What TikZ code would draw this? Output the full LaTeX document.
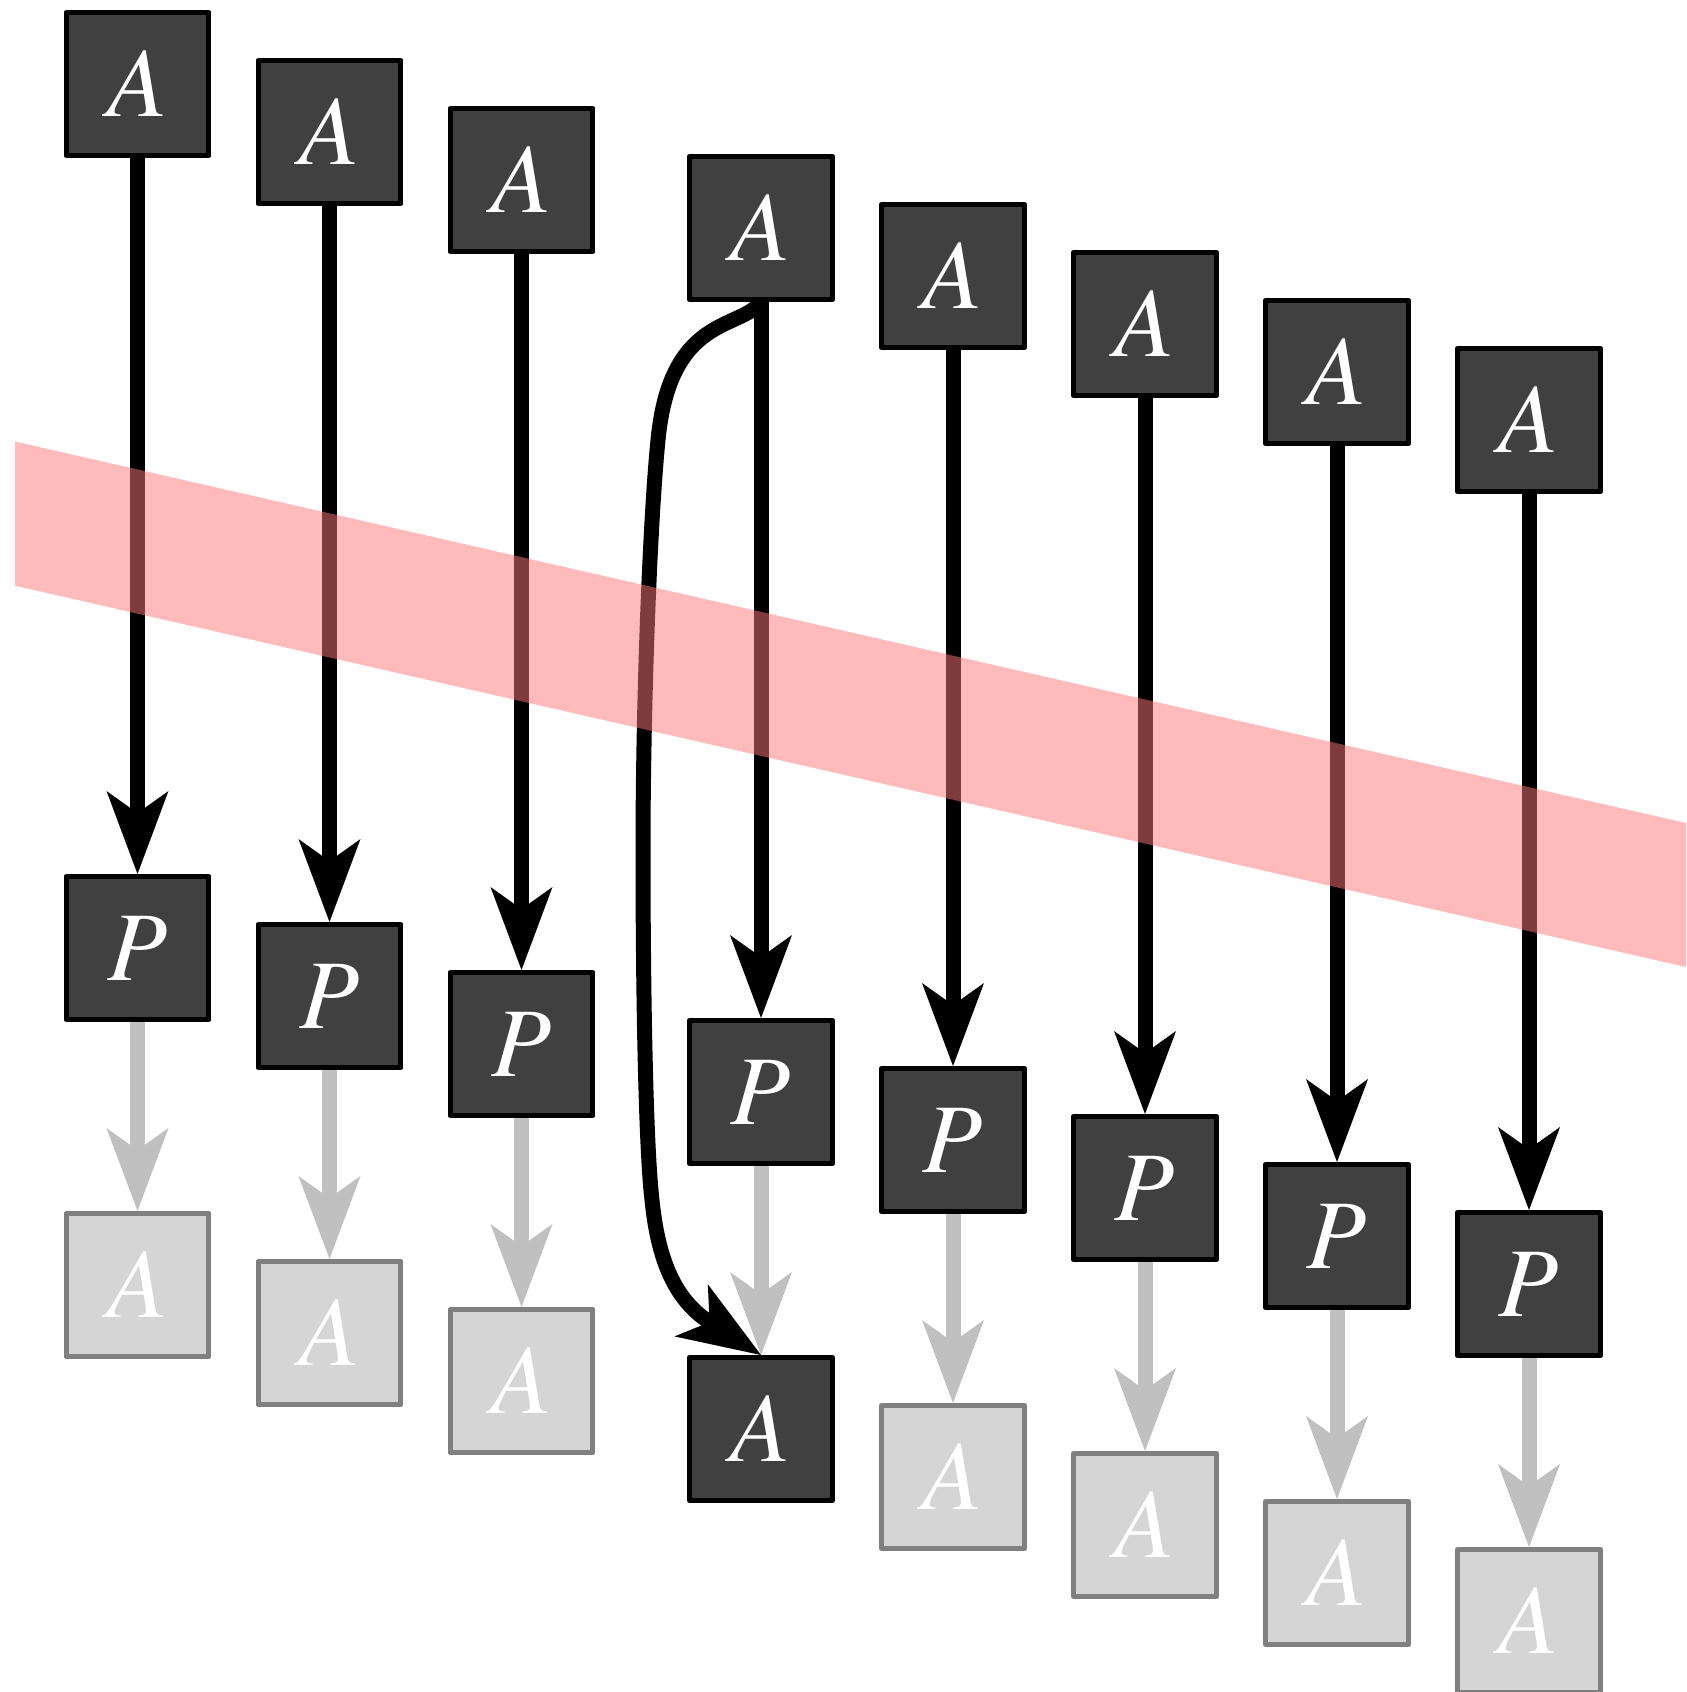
\documentclass[tikz,border=0pt]{standalone}
\usepackage{fontspec}
\newfontfamily\boxfont{texgyretermes-italic.otf}
\usetikzlibrary{arrows.meta}
\definecolor{boxdark}{HTML}{404040}
\definecolor{boxlight}{HTML}{D5D5D5}
\definecolor{edgelight}{HTML}{808080}
\definecolor{arrlight}{HTML}{C0C0C0}
\definecolor{bandred}{RGB}{255,120,120}
\begin{document}
\begin{tikzpicture}[x=0.02cm, y=-0.02cm, line join=round, font=\boxfont\fontsize{56}{60}\selectfont]
			\tikzset{
				blk/.style={draw=black, fill=boxdark, text=white, line width=0.1cm, minimum size=2.86cm, inner sep=0pt},
				ghost/.style={blk, draw=edgelight, fill=boxlight},
				flow/.style={line width=0.3cm, -{Stealth[length=1.66cm, width=1.24cm, inset=0.44cm, line width=0pt]}},
				fade/.style={flow, draw=arrlight},
			}
			\useasboundingbox (0,0) rectangle (1686,1692);
			\foreach \i/\x/\s in {1/137.5/ghost,2/329.5/ghost,3/521.5/ghost,4/761/blk,5/953/ghost,6/1145/ghost,7/1337/ghost,8/1529/ghost}{
				\node[blk] (a\i) at (\x,{84+48*(\i-1)}) {A};
				\node[blk] (p\i) at (\x,{948+48*(\i-1)}) {P};
				\node[\s] (b\i) at (\x,{1285+48*(\i-1)}) {A};
				\draw[flow] (a\i) -- (p\i);
				\draw[fade] (p\i) -- (b\i);
			}
			\draw[flow] (a4.south) .. controls (740,330) and (670,315) .. (658,440) .. controls (650,520) and (643,700) .. (643,850) .. controls (643,1000) and (646,1150) .. (652,1200) .. controls (658,1260) and (675,1300) .. (b4.north);
			% the cut
			\fill[bandred, opacity=0.5] (15,441.5) -- (1686,823) -- (1686,967) -- (15,585.7) -- cycle;
			
		\end{tikzpicture}
\end{document}
